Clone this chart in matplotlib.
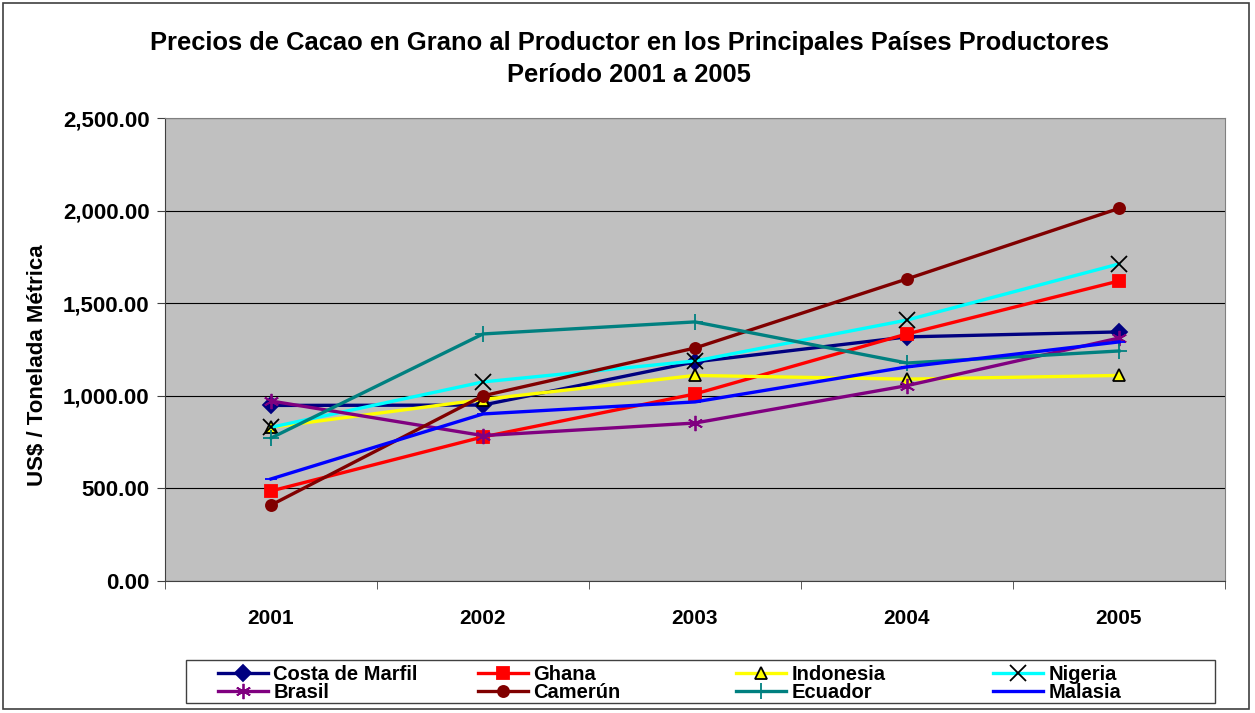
import matplotlib.pyplot as plt
from matplotlib.patches import Rectangle
from matplotlib.ticker import FuncFormatter, FixedLocator

plt.rcParams['font.family'] = ['Liberation Sans', 'DejaVu Sans']
plt.rcParams['font.weight'] = 'bold'

# datos (US$ / tonelada métrica)
years = ['2001', '2002', '2003', '2004', '2005']
costa_marfil = [948, 950, 1183, 1318, 1345]
ghana = [486, 778, 1010, 1334, 1620]
indonesia = [830, 980, 1110, 1090, 1110]
nigeria = [830, 1075, 1188, 1409, 1712]
brasil = [972, 785, 853, 1055, 1312]
camerun = [410, 1000, 1258, 1631, 2012]
ecuador = [772, 1334, 1399, 1177, 1242]
malasia = [551, 902, 967, 1156, 1291]

series = [
    ('Costa de Marfil', costa_marfil, '#000080', 'D', '#000080', '#000080'),
    ('Ghana', ghana, '#FF0000', 's', '#FF0000', '#FF0000'),
    ('Indonesia', indonesia, '#FFFF00', '^', '#FFFF00', '#000000'),
    ('Nigeria', nigeria, '#00FFFF', 'x', 'none', '#000000'),
    ('Brasil', brasil, '#800080', (6, 2, 0), '#800080', '#800080'),
    ('Camerún', camerun, '#800000', 'o', '#800000', '#800000'),
    ('Ecuador', ecuador, '#008080', '+', '#008080', '#008080'),
    ('Malasia', malasia, '#0000FF', '_', '#0000FF', '#0000FF'),
]

fig = plt.figure(figsize=(12.55, 7.13), dpi=100)
ax = fig.add_axes([165 / 1255, 1 - 581 / 713, 1060 / 1255, 463 / 713])
ax.set_facecolor('#C0C0C0')

x = list(range(1, len(years) + 1))
handles = {}
for name, vals, col, mk, mfc, mec in series:
    ms = 8
    if mk in ('x', '+', (6, 2, 0)):
        ms = 11
    if mk == '_':
        ms = 9
    (h,) = ax.plot(x, vals, color=col, lw=2.4, marker=mk, markersize=ms,
                   markerfacecolor=mfc, markeredgecolor=mec, markeredgewidth=1.3,
                   label=name, zorder=3)
    handles[name] = h

ax.set_xlim(0.5, 5.5)
ax.set_ylim(0, 2500)
ax.set_yticks([0, 500, 1000, 1500, 2000, 2500])
ax.yaxis.set_major_formatter(FuncFormatter(lambda v, p: f'{v:,.2f}'))
ax.yaxis.grid(True, color='black', lw=0.8)
ax.set_axisbelow(True)

ax.xaxis.set_major_locator(FixedLocator(x))
ax.set_xticklabels(years)
ax.xaxis.set_minor_locator(FixedLocator([i + 0.5 for i in range(0, 6)]))
ax.tick_params(axis='x', which='major', length=0, pad=20, labelsize=15)
ax.tick_params(axis='x', which='minor', length=6, direction='out', color='#404040')
ax.tick_params(axis='y', length=6, direction='out', labelsize=16, pad=5, color='#404040')
for lab in ax.get_xticklabels() + ax.get_yticklabels():
    lab.set_fontweight('bold')

for s in ['top', 'right']:
    ax.spines[s].set_color('#808080')
for s in ['left', 'bottom']:
    ax.spines[s].set_color('#404040')

ax.set_ylabel('US$ / Tonelada Métrica', fontsize=16, fontweight='bold')
ax.yaxis.set_label_coords(-0.1104, 0.4665)

fig.text(629 / 1255, 1 - 59 / 713,
         'Precios de Cacao en Grano al Productor en los Principales Países Productores\nPeríodo 2001 a 2005',
         ha='center', va='center', fontsize=18.4, fontweight='bold', linespacing=1.38)

# leyenda: cuatro columnas de dos filas
columns = [('Costa de Marfil', 'Brasil'), ('Ghana', 'Camerún'),
           ('Indonesia', 'Ecuador'), ('Nigeria', 'Malasia')]
col_x = [218, 478, 736, 993]
for names, cx in zip(columns, col_x):
    leg = fig.legend([handles[n] for n in names], list(names),
                     loc='center left', bbox_to_anchor=(cx / 1255, 1 - 683.5 / 713),
                     frameon=False, prop={'weight': 'bold', 'size': 14.5},
                     handlelength=2.5, handletextpad=0.25,
                     labelspacing=-0.02, borderpad=0, borderaxespad=0)

# marco de la leyenda
fig.patches.append(Rectangle((186 / 1255, 1 - 703 / 713), 1029 / 1255, 43 / 713,
                             transform=fig.transFigure, fill=False,
                             edgecolor='#404040', lw=1.0))
# marco del gráfico
fig.patches.append(Rectangle((3 / 1255, 4 / 713), 1246 / 1255, 706 / 713,
                             transform=fig.transFigure, fill=False,
                             edgecolor='#404040', lw=1.2))

fig.savefig('out.png', dpi=100)
